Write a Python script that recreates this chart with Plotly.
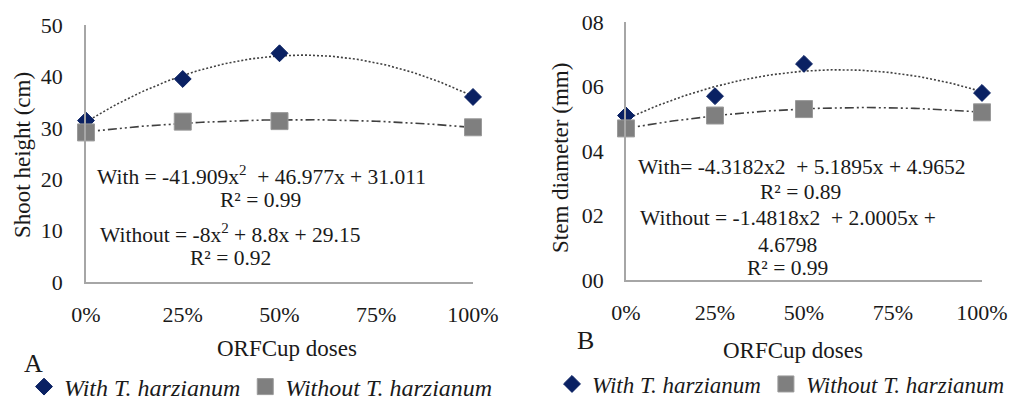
import numpy as np
import plotly.graph_objects as go

# ---------------- data ----------------
doses = [0.0, 0.25, 0.5, 1.0]
tick_vals = [0, 0.25, 0.5, 0.75, 1.0]
tick_text = ["0%", "25%", "50%", "75%", "100%"]

height_with = [31.4, 39.5, 44.5, 36.0]
height_without = [29.1, 31.2, 31.3, 30.1]

diam_with = [5.1, 5.7, 6.7, 5.8]
diam_without = [4.7, 5.1, 5.3, 5.2]

ya_ticks = [0, 10, 20, 30, 40, 50]
yb_ticks = [0, 2, 4, 6, 8]
yb_text = ["00", "02", "04", "06", "08"]

name_with = "<i>With T. harzianum</i>"
name_without = "<i>Without T. harzianum</i>"

# ---------------- style ----------------
FONT = "Liberation Serif"
TXT = "#1a1a1a"
NAVY = "#0a2163"
GRAY = "#7f7f7f"
LINE = "#404040"
AXIS = "#a6a6a6"
OFF = 8                     # page body margin
W, H = 1019 - OFF, 405 - OFF


def px_x(p):
    return (p - OFF) / W


def px_y(p):
    return 1 - (p - OFF) / H


fig = go.Figure()

grid = np.linspace(0, 1, 101)


def add_panel(xa, ya, with_vals, without_vals, legend):
    cw = np.polyfit(doses, with_vals, 2)
    cwo = np.polyfit(doses, without_vals, 2)
    fig.add_trace(go.Scatter(x=grid, y=np.polyval(cw, grid), mode="lines",
                             line=dict(color=LINE, width=1.6, dash="2px,2px"),
                             xaxis=xa, yaxis=ya, showlegend=False, hoverinfo="skip"))
    fig.add_trace(go.Scatter(x=grid, y=np.polyval(cwo, grid), mode="lines",
                             line=dict(color=LINE, width=1.6,
                                       dash="9px,3px,2px,3px,2px,3px"),
                             xaxis=xa, yaxis=ya, showlegend=False, hoverinfo="skip"))
    fig.add_trace(go.Scatter(x=doses, y=with_vals, mode="markers", name=name_with,
                             marker=dict(symbol="diamond", size=13, color=NAVY,
                                         line=dict(color=NAVY, width=1)),
                             xaxis=xa, yaxis=ya, legend=legend, cliponaxis=False))
    fig.add_trace(go.Scatter(x=doses, y=without_vals, mode="markers", name=name_without,
                             marker=dict(symbol="square", size=17, color=GRAY,
                                         line=dict(color="#9a9a9a", width=1)),
                             xaxis=xa, yaxis=ya, legend=legend, cliponaxis=False))


add_panel("x", "y", height_with, height_without, "legend")
add_panel("x2", "y2", diam_with, diam_without, "legend2")

tickfont = dict(family=FONT, size=22, color=TXT)
xcommon = dict(range=[0, 1], tickvals=tick_vals, ticktext=tick_text, showline=True,
               linecolor=AXIS, linewidth=1.5, showgrid=False, zeroline=False,
               ticks="", tickfont=tickfont, ticklabelstandoff=12, fixedrange=True)
ycommon = dict(showline=True, linecolor=AXIS, linewidth=1.5, showgrid=False,
               zeroline=False, ticks="", tickfont=tickfont, fixedrange=True)

legfont = dict(family=FONT, size=24, color=TXT)
legfont2 = dict(family=FONT, size=23, color=TXT)

fig.update_layout(
    width=W, height=H, autosize=False,
    font=dict(family=FONT, size=20, color=TXT),
    margin=dict(l=0, r=0, t=0, b=0, autoexpand=False),
    paper_bgcolor="white", plot_bgcolor="white",
    xaxis=dict(domain=[px_x(86), px_x(473)], anchor="y", **xcommon),
    yaxis=dict(domain=[px_y(282), px_y(25)], anchor="x", range=[0, 50],
               tickvals=ya_ticks, ticklabelstandoff=17, **ycommon),
    xaxis2=dict(domain=[px_x(626), px_x(982)], anchor="y2", **xcommon),
    yaxis2=dict(domain=[px_y(280), px_y(22)], anchor="x2", range=[0, 8],
                tickvals=yb_ticks, ticktext=yb_text, ticklabelstandoff=16, **ycommon),
    legend=dict(orientation="h", x=px_x(24), y=px_y(387), xanchor="left",
                yanchor="middle", font=legfont, itemwidth=30,
                bgcolor="rgba(0,0,0,0)", tracegroupgap=0),
    legend2=dict(orientation="h", x=px_x(552), y=px_y(384), xanchor="left",
                 yanchor="middle", font=legfont2, itemwidth=30,
                 bgcolor="rgba(0,0,0,0)", tracegroupgap=0),
)

ann_font = dict(family=FONT, size=21.5, color=TXT)


def ann(text, x, y, size=None, angle=0, xanchor="center"):
    f = dict(ann_font)
    if size:
        f["size"] = size
    fig.add_annotation(text=text, x=px_x(x), y=px_y(y), xref="paper", yref="paper",
                       showarrow=False, font=f, textangle=angle,
                       xanchor=xanchor, yanchor="middle")


# panel A texts
ann("With = -41.909x<sup>2</sup>  + 46.977x + 31.011", 261, 175)
ann("R² = 0.99", 260, 200)
ann("Without = -8x<sup>2</sup> + 8.8x + 29.15", 230, 233)
ann("R² = 0.92", 230, 258)
ann("Shoot height (cm)", 22, 155, size=23, angle=-90)
ann("ORFCup doses", 287, 348, size=23)
ann("A", 33, 363, size=26)

# panel B texts
ann("With= -4.3182x2  + 5.1895x + 4.9652", 802, 167)
ann("R² = 0.89", 800, 192)
ann("Without = -1.4818x2  + 2.0005x +", 638, 218, xanchor="left")
ann("4.6798", 787, 245)
ann("R² = 0.99", 787, 268)
ann("Stem diameter (mm)", 560, 158, size=23, angle=-90)
ann("ORFCup doses", 793, 350, size=23)
ann("B", 585, 340, size=26)

fig.write_html("out.html")
